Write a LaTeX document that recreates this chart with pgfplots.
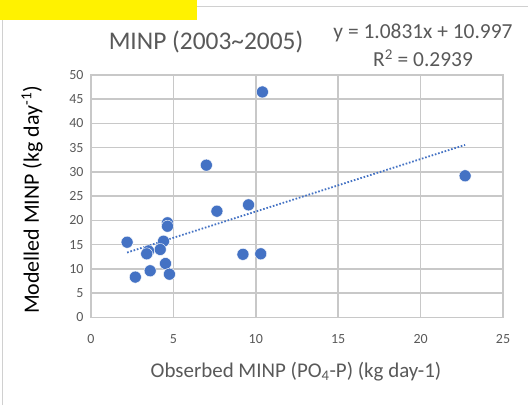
\documentclass[border=0pt]{standalone}
\usepackage{pgfplots}
\pgfplotsset{compat=1.18}
\usepackage{fontspec}
\setmainfont{Carlito}
\definecolor{txtgray}{HTML}{595959}
\definecolor{gridgray}{HTML}{C8C8C8}
\definecolor{ptblue}{HTML}{4472C4}
\definecolor{framegray}{HTML}{D0D0D0}
\begin{document}
\begin{tikzpicture}
\begin{scope}[x=1bp,y=1bp]
\path[use as bounding box] (0,0) rectangle (528,405);
\fill[white] (0,0) rectangle (528,405);
\fill[yellow] (0,385) rectangle (197,405);
\draw[framegray,line width=1.2bp] (197,398.5) -- (528,398.5);
\draw[framegray,line width=1.2bp] (2.5,0) -- (2.5,385);
\end{scope}
\begin{axis}[
  at={(91bp,87.7bp)}, anchor=south west,
  scale only axis, width=412bp, height=242.3bp,
  xmin=0, xmax=25, ymin=0, ymax=50,
  xtick={0,5,10,15,20,25}, ytick={0,5,10,15,20,25,30,35,40,45,50},
  grid=both,
  major grid style={gridgray,line width=1.6bp},
  minor grid style={gridgray,line width=1.6bp},
  axis line style={gridgray,line width=1.6bp},
  major tick length=0pt,
  tick label style={font=\fontsize{14}{16}\selectfont, text=txtgray},
  /pgf/number format/assume math mode=true,
  xticklabel style={yshift=-14bp},
  yticklabel style={xshift=-4bp},
]
\addplot[only marks, mark=*, mark size=6bp, mark options={fill=ptblue, draw=white, line width=0.4bp}] coordinates {
(10.4,46.5) (7.0,31.4) (7.64,21.9) (9.56,23.2) (4.64,19.5) (4.64,18.8)
(2.19,15.5) (4.4,15.7) (4.2,14.0) (3.49,13.7) (3.38,13.1) (9.22,13.0)
(10.3,13.1) (4.52,11.1) (3.59,9.6) (2.69,8.3) (4.76,8.9) (22.7,29.2)
};
\addplot[ptblue, line width=1.8bp, dash pattern=on 1.6bp off 1.8bp] coordinates {
(2.19,13.37) (22.7,35.58)
};
\end{axis}
\begin{scope}[x=1bp,y=1bp]
\node[text=txtgray, font=\fontsize{25.5}{28}\selectfont] at (206,363) {MINP (2003\textasciitilde 2005)};
\node[text=txtgray, font=\fontsize{21.5}{24}\selectfont] at (423,372) {y = 1.0831x + 10.997};
\node[text=txtgray, font=\fontsize{21.5}{24}\selectfont] at (423,347) {R\textsuperscript{2} = 0.2939};
\node[text=txtgray, font=\fontsize{21}{24}\selectfont] at (296,33) {Obserbed MINP (PO\textsubscript{4}-P) (kg day-1)};
\node[text=black, font=\fontsize{22}{24}\selectfont, rotate=90] at (32,205) {Modelled MINP (kg day\textsuperscript{-1})};
\end{scope}
\end{tikzpicture}
\end{document}
